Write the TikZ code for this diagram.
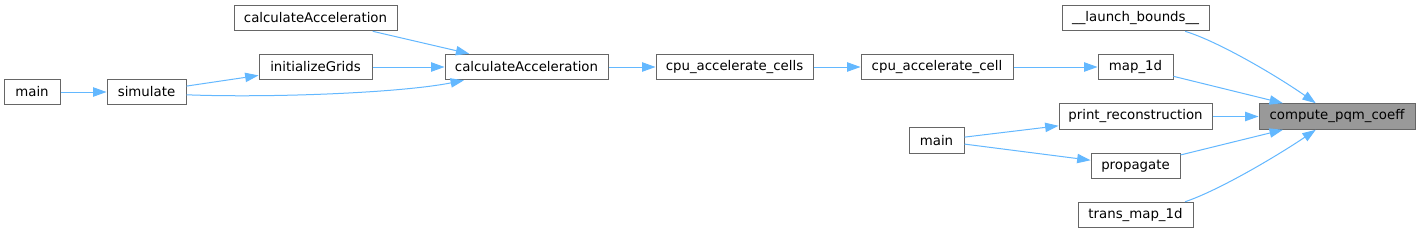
\documentclass[tikz,border=0pt]{standalone}
\usepackage{fontspec}
\setmainfont{DejaVu Sans}
\usetikzlibrary{arrows.meta}
\definecolor{edgeblue}{HTML}{63B8FF}
\definecolor{boxgray}{HTML}{666666}
\definecolor{hlgray}{HTML}{999999}
\begin{document}
\begin{tikzpicture}[x=0.75pt,y=-0.75pt,
  fn/.style={draw=boxgray, line width=0.75pt, fill=white, inner sep=0pt,
    font=\fontsize{10pt}{12pt}\selectfont, minimum height=19.2pt},
  wd/.style={minimum width=#1*0.75pt},
  cur/.style={fn, fill=hlgray},
  calls/.style={draw=edgeblue, line width=0.75pt, -{Triangle[length=10pt,width=7pt]}}]
\fill[white] (0,0) rectangle (1420,233);
\useasboundingbox (0,0) rectangle (1420,233);

\node[fn,wd=163] (calcTop) at (315.5,18) {calculateAcceleration};
\node[fn,wd=113] (initGrids) at (315.5,67) {initializeGrids};
\node[fn,wd=56] (mainL) at (32,92) {main};
\node[fn,wd=79] (simulate) at (146.5,92) {simulate};
\node[fn,wd=163] (calcMid) at (526.5,67) {calculateAcceleration};
\node[fn,wd=157] (cpuCells) at (734.5,67) {cpu\_accelerate\_cells};
\node[fn,wd=152] (cpuCell) at (937,67) {cpu\_accelerate\_cell};
\node[fn,wd=147] (launch) at (1135.5,18) {\_\_launch\_bounds\_\_};
\node[fn,wd=75] (map1d) at (1135.5,67) {map\_1d};
\node[fn,wd=153] (printRec) at (1135.5,116.5) {print\_reconstruction};
\node[cur,wd=156] (compute) at (1337,116.5) {compute\_pqm\_coeff};
\node[fn,wd=89] (propagate) at (1135.5,166) {propagate};
\node[fn,wd=115] (transMap) at (1135.5,215) {trans\_map\_1d};
\node[fn,wd=55] (mainR) at (936.5,140.5) {main};

\draw[calls] (mainL) -- (simulate);
\draw[calls] (simulate) -- (initGrids);
\draw[calls] (simulate.-4) .. controls (270,98) and (400,93) .. (calcMid.192);
\draw[calls] (calcTop) -- (calcMid);
\draw[calls] (initGrids) -- (calcMid);
\draw[calls] (calcMid) -- (cpuCells);
\draw[calls] (cpuCells) -- (cpuCell);
\draw[calls] (cpuCell) -- (map1d);
\draw[calls] (launch.-15) .. controls (1220,42) and (1280,78) .. (compute.148);
\draw[calls] (map1d) -- (compute);
\draw[calls] (printRec) -- (compute);
\draw[calls] (propagate) -- (compute);
\draw[calls] (transMap.15) .. controls (1220,190) and (1280,154) .. (compute.212);
\draw[calls] (mainR) -- (printRec);
\draw[calls] (mainR) -- (propagate);
\end{tikzpicture}
\end{document}
